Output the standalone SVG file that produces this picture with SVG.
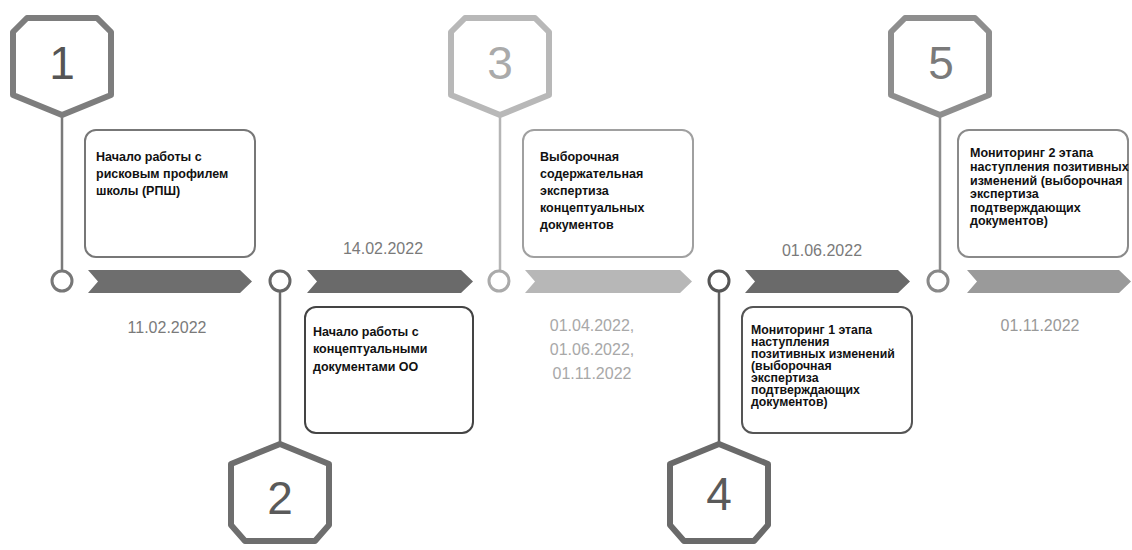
<svg xmlns="http://www.w3.org/2000/svg" width="1132" height="550" viewBox="0 0 1132 550">
<style>
.bg{fill:#ffffff}
.hex{fill:#ffffff;stroke-width:6;stroke-linejoin:round}
.num{font-family:"Liberation Sans",Arial,sans-serif;font-size:46px;text-anchor:middle}
.box{fill:#ffffff;stroke-width:2}
.bt{font-family:"Liberation Sans",Arial,sans-serif;font-weight:bold;font-size:12.5px;fill:#111}
.bt4{font-family:"Liberation Sans",Arial,sans-serif;font-weight:bold;font-size:12.3px;fill:#111}
.date{font-family:"Liberation Sans",Arial,sans-serif;font-size:16px;text-anchor:middle}
.stem{stroke-width:2.5;fill:none}
.ring{fill:#ffffff;stroke-width:3}
</style>
<rect class="bg" x="0" y="0" width="1132" height="550"/>

<g id="connectors">
  <line class="stem" x1="62" y1="115" x2="62" y2="271" stroke="#7a7a7a"/>
  <line class="stem" x1="280" y1="292" x2="280" y2="444" stroke="#6a6a6a"/>
  <line class="stem" x1="500" y1="115" x2="500" y2="271" stroke="#b5b5b5"/>
  <line class="stem" x1="719" y1="292" x2="719" y2="444" stroke="#5e5e5e"/>
  <line class="stem" x1="940" y1="115" x2="940" y2="271" stroke="#8c8c8c"/>
  <path d="M88,270 L240,270 L252,281.5 L240,293 L88,293 L98,281.5 Z" fill="#6e6e6e"/>
  <path d="M307,270 L461,270 L473,281.5 L461,293 L307,293 L317,281.5 Z" fill="#6a6a6a"/>
  <path d="M525,270 L680,270 L692,281.5 L680,293 L525,293 L535,281.5 Z" fill="#b7b7b7"/>
  <path d="M745,270 L898,270 L910,281.5 L898,293 L745,293 L755,281.5 Z" fill="#6a6a6a"/>
  <path d="M967,270 L1119,270 L1131,281.5 L1119,293 L967,293 L977,281.5 Z" fill="#9a9a9a"/>
</g>

<g id="node1">
  <path class="hex" stroke="#7d7d7d" d="M27,18 L97,18 L111,32 L111,95 L62,115 L13,95 L13,32 Z"/>
  <text class="num" x="62" y="79" fill="#555">1</text>
  <circle class="ring" cx="62" cy="281" r="10" stroke="#777"/>
  <rect class="box" x="85" y="130" width="170" height="127" rx="11" stroke="#777"/>
  <text class="bt" x="96"><tspan x="96" y="161">Начало работы с</tspan><tspan x="96" y="178">рисковым профилем</tspan><tspan x="96" y="195">школы (РПШ)</tspan></text>
  <text class="date" x="167" y="333" fill="#7a7a7a">11.02.2022</text>
</g>

<g id="node2">
  <path class="hex" stroke="#6e6e6e" d="M280,444 L329,464 L329,525 L315,541 L245,541 L231,525 L231,464 Z"/>
  <text class="num" x="280" y="514" fill="#5a5a5a">2</text>
  <circle class="ring" cx="280" cy="281" r="10" stroke="#666"/>
  <rect class="box" x="305" y="307" width="168" height="126" rx="11" stroke="#444"/>
  <text class="bt" x="313"><tspan x="313" y="336">Начало работы с</tspan><tspan x="313" y="353">концептуальными</tspan><tspan x="313" y="371">документами ОО</tspan></text>
  <text class="date" x="383" y="254" fill="#7a7a7a">14.02.2022</text>
</g>

<g id="node3">
  <path class="hex" stroke="#b8b8b8" d="M465,18 L535,18 L549,32 L549,95 L500,115 L451,95 L451,32 Z"/>
  <text class="num" x="500" y="79" fill="#aaaaaa">3</text>
  <circle class="ring" cx="499" cy="281" r="10" stroke="#aaaaaa"/>
  <rect class="box" x="523" y="130" width="170" height="127" rx="11" stroke="#a0a0a0"/>
  <text class="bt" x="540"><tspan x="540" y="161">Выборочная</tspan><tspan x="540" y="178">содержательная</tspan><tspan x="540" y="195">экспертиза</tspan><tspan x="540" y="212">концептуальных</tspan><tspan x="540" y="229">документов</tspan></text>
  <text class="date" fill="#a8a8a8"><tspan x="592" y="331">01.04.2022,</tspan><tspan x="592" y="355">01.06.2022,</tspan><tspan x="592" y="379">01.11.2022</tspan></text>
</g>

<g id="node4">
  <path class="hex" stroke="#6a6a6a" d="M719,444 L768,464 L768,525 L754,541 L684,541 L670,525 L670,464 Z"/>
  <text class="num" x="719" y="510" fill="#5a5a5a">4</text>
  <circle class="ring" cx="719" cy="281" r="10" stroke="#555"/>
  <rect class="box" x="742" y="307" width="170" height="126" rx="11" stroke="#555"/>
  <text class="bt4" x="751"><tspan x="751" y="334">Мониторинг 1 этапа</tspan><tspan x="751" y="346">наступления</tspan><tspan x="751" y="358">позитивных изменений</tspan><tspan x="751" y="370">(выборочная</tspan><tspan x="751" y="382">экспертиза</tspan><tspan x="751" y="394">подтверждающих</tspan><tspan x="751" y="406">документов)</tspan></text>
  <text class="date" x="822" y="256" fill="#7a7a7a">01.06.2022</text>
</g>

<g id="node5">
  <path class="hex" stroke="#8e8e8e" d="M905,18 L975,18 L989,32 L989,95 L940,115 L891,95 L891,32 Z"/>
  <text class="num" x="941" y="79" fill="#7a7a7a">5</text>
  <circle class="ring" cx="938" cy="281" r="10" stroke="#888"/>
  <rect class="box" x="958" y="130" width="170" height="127" rx="11" stroke="#8a8a8a"/>
  <text class="bt" x="970"><tspan x="970" y="157">Мониторинг 2 этапа</tspan><tspan x="970" y="171">наступления позитивных</tspan><tspan x="970" y="185">изменений (выборочная</tspan><tspan x="970" y="198">экспертиза</tspan><tspan x="970" y="212">подтверждающих</tspan><tspan x="970" y="225">документов)</tspan></text>
  <text class="date" x="1040" y="331" fill="#999">01.11.2022</text>
</g>
</svg>
